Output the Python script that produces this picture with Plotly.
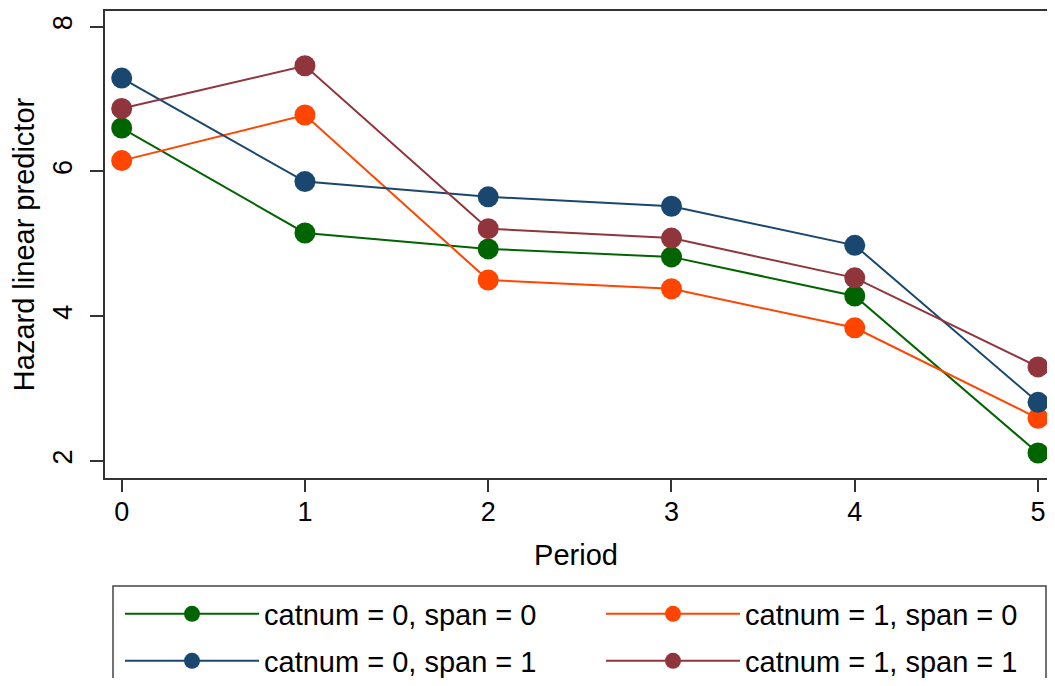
import plotly.graph_objects as go

period = [0, 1, 2, 3, 4, 5]
c0_s0 = [6.60, 5.15, 4.93, 4.82, 4.28, 2.11]
c1_s0 = [6.15, 6.78, 4.50, 4.38, 3.84, 2.59]
c0_s1 = [7.29, 5.86, 5.65, 5.52, 4.98, 2.81]
c1_s1 = [6.87, 7.46, 5.21, 5.08, 4.53, 3.30]

names = ["catnum = 0, span = 0", "catnum = 1, span = 0",
         "catnum = 0, span = 1", "catnum = 1, span = 1"]
series = [c0_s0, c1_s0, c0_s1, c1_s1]
colors = ["#006400", "#ff4500", "#1a476f", "#90353b"]

y_ticks = [2, 4, 6, 8]
x_ticks = [0, 1, 2, 3, 4, 5]

FONT = "Liberation Sans, Arial, Helvetica, sans-serif"

# the page body adds an 8px offset on every side, so the figure is drawn smaller
OFF = 8
W, H = 1055 - 2 * OFF, 686 - 2 * OFF
# plot area in window px: left 105, right 1047, top 11, bottom 478
PL, PR, PT, PB = 105, 1047, 11, 478
PW, PH = PR - PL, PB - PT
legend_ids = ["legend", "legend2", "legend3", "legend4"]
legend_pos = [  # (x px of legend left, y px of row centre), window coords
    (120, 614), (601, 614), (120, 661), (601, 661)
]

fig = go.Figure()
for name, ys, col, lid in zip(names, series, colors, legend_ids):
    fig.add_trace(go.Scatter(
        x=period, y=ys, name=name, mode="lines+markers",
        line=dict(color=col, width=2),
        marker=dict(color=col, size=21, line=dict(width=0)),
        legend=lid, cliponaxis=False,
    ))

legend_layouts = {}
for lid, (px, py) in zip(legend_ids, legend_pos):
    legend_layouts[lid] = dict(
        orientation="h", x=(px - PL) / PW, xanchor="left",
        y=(PB - py) / PH, yanchor="middle",
        xref="paper", yref="paper",
        itemwidth=134, bgcolor="rgba(0,0,0,0)",
        font=dict(family=FONT, size=29, color="black"),
        itemclick=False, itemdoubleclick=False,
    )

fig.update_layout(
    width=W, height=H,
    margin=dict(l=PL - OFF, r=(OFF + W) - PR, t=PT - OFF, b=(OFF + H) - PB,
                autoexpand=False),
    paper_bgcolor="white", plot_bgcolor="white",
    font=dict(family=FONT, size=28, color="black"),
    showlegend=True,
    xaxis=dict(
        range=[-0.091, 5.049], tickvals=x_ticks, ticks="outside", ticklen=12,
        tickwidth=1.5, tickcolor="#333", showgrid=False, zeroline=False,
        showline=True, linecolor="#333", linewidth=2, mirror=True,
        tickfont=dict(size=27), title=dict(text="Period", standoff=18, font=dict(size=29)),
        ticklabelstandoff=-3, automargin=False,
    ),
    yaxis=dict(
        range=[1.765, 8.217], tickvals=y_ticks, ticks="outside", ticklen=13,
        tickwidth=1.5, tickcolor="#333", showgrid=False, zeroline=False,
        showline=True, linecolor="#333", linewidth=2, mirror=True,
        tickangle=-90, tickfont=dict(size=27),
        title=dict(text="Hazard linear predictor", standoff=15, font=dict(size=29)),
        ticklabelstandoff=7, automargin=False,
    ),
    **legend_layouts,
)

fig.add_shape(type="rect", xref="paper", yref="paper",
              x0=(113 - PL) / PW, x1=(1046 - PL) / PW,
              y0=(PB - 586) / PH, y1=(PB - 700) / PH,
              line=dict(color="#444", width=1.5), fillcolor="rgba(0,0,0,0)",
              layer="below")

fig.write_html("out.html")
